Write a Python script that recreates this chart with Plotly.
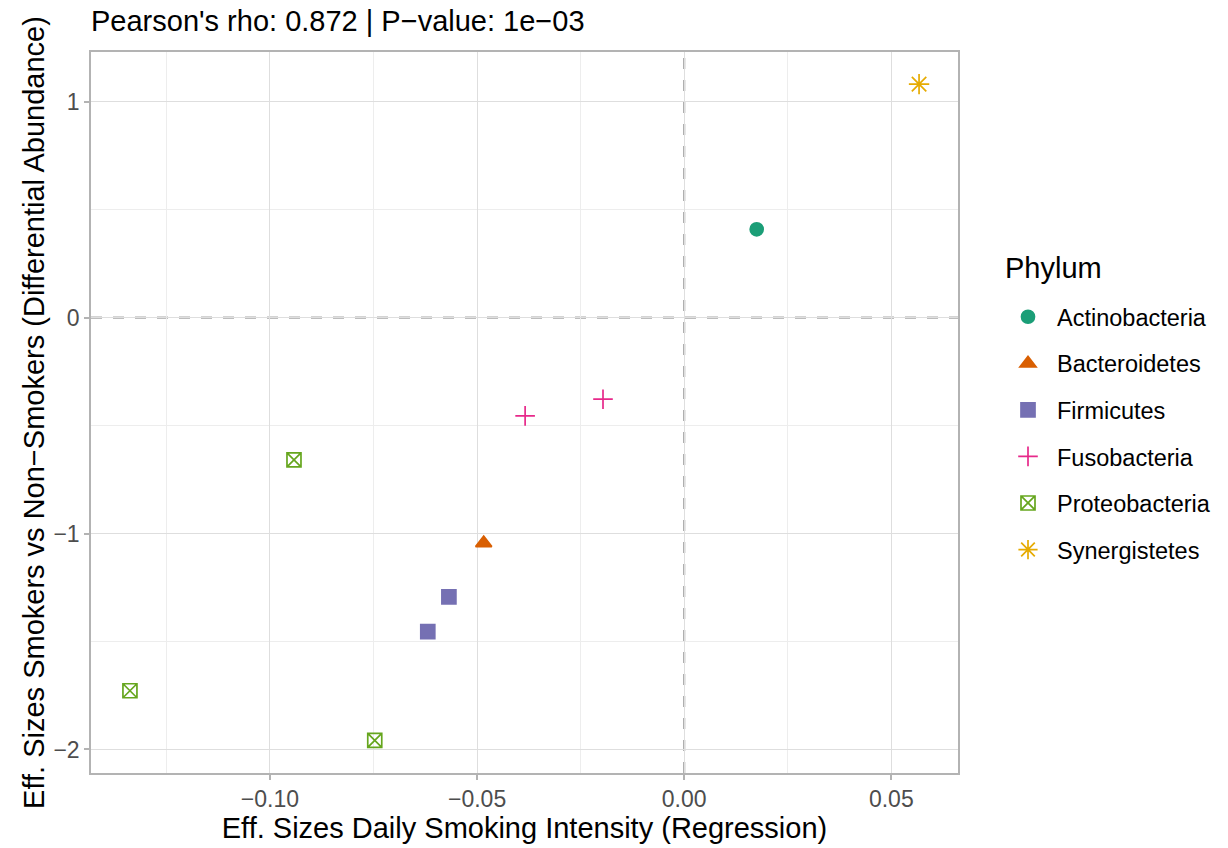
import plotly.graph_objects as go

phyla = ["Actinobacteria", "Bacteroidetes", "Firmicutes", "Fusobacteria", "Proteobacteria", "Synergistetes"]
x_vals = {
    "Actinobacteria": [0.0175],
    "Bacteroidetes": [-0.0484],
    "Firmicutes": [-0.0568, -0.0619],
    "Fusobacteria": [-0.0384, -0.0196],
    "Proteobacteria": [-0.0942, -0.1338, -0.0747],
    "Synergistetes": [0.0567],
}
y_vals = {
    "Actinobacteria": [0.409],
    "Bacteroidetes": [-1.044],
    "Firmicutes": [-1.293, -1.454],
    "Fusobacteria": [-0.455, -0.378],
    "Proteobacteria": [-0.659, -1.728, -1.958],
    "Synergistetes": [1.081],
}
colors = ["#1B9E77", "#D95F02", "#7570B3", "#E7298A", "#66A61E", "#E6AB02"]
symbols = ["circle", "triangle-up", "square", "cross-thin-open", "square-x-open", "asterisk-open"]
sizes = [13, 14, 14, 14, 14, 17]

x_ticks = [-0.10, -0.05, 0.00, 0.05]
x_ticktext = ["\u22120.10", "\u22120.05", "0.00", "0.05"]
y_ticks = [1, 0, -1, -2]
y_ticktext = ["1", "0", "\u22121", "\u22122"]

title_text = "Pearson's rho: 0.872 | P\u2212value: 1e\u221203"
x_title = "Eff. Sizes Daily Smoking Intensity (Regression)"
y_title = "Eff. Sizes Smokers vs Non\u2212Smokers (Differential Abundance)"
legend_title = "Phylum"

FONT = "Liberation Sans, Arial, sans-serif"
W, H = 1228, 848
L, R, T, B = 91, 270, 52, 75
PW, PH = W - L - R, H - T - B

fig = go.Figure()
for i, p in enumerate(phyla):
    fig.add_trace(go.Scatter(
        x=x_vals[p], y=y_vals[p], mode="markers", name=p, legendgroup=p,
        marker=dict(symbol=symbols[i], color=colors[i], size=sizes[i],
                    line=dict(color=colors[i], width=1.7)),
    ))

grid_major = "#DEDEDE"
grid_minor = "#EDEDED"
border = "#B3B3B3"

fig.add_shape(type="line", xref="x", yref="paper", x0=0, x1=0, y0=0, y1=1,
              line=dict(color="#A8A8A8", width=2.2, dash="11px,11px"), layer="between")
fig.add_shape(type="line", xref="paper", yref="y", x0=0, x1=1, y0=0, y1=0,
              line=dict(color="#A8A8A8", width=2.2, dash="11px,11px"), layer="between")

fig.add_annotation(text=legend_title, xref="paper", yref="paper",
                   x=(1003 - L) / PW, y=(H - B - 268) / PH, xanchor="left", yanchor="middle",
                   showarrow=False, font=dict(size=29, color="black"))

fig.update_layout(
    width=W, height=H,
    margin=dict(l=L, r=R, t=T, b=B),
    paper_bgcolor="white", plot_bgcolor="white",
    font=dict(family=FONT, color="black"),
    title=dict(text=title_text, x=L/W, xanchor="left", y=1-21/H, yanchor="middle",
               font=dict(size=29, color="black")),
    legend=dict(
        font=dict(size=23.5), x=(999 - L) / PW, xanchor="left",
        y=(H - B - 433.5) / PH, yanchor="middle",
        tracegroupgap=13, itemsizing="trace", itemwidth=48,
    ),
    xaxis=dict(
        range=[-0.1432, 0.0661], tickvals=x_ticks, ticktext=x_ticktext,
        showgrid=True, gridcolor=grid_major, gridwidth=1,
        minor=dict(dtick=0.025, tick0=0, showgrid=True, gridcolor=grid_minor, gridwidth=1, ticks=""),
        zeroline=False, showline=True, linecolor=border, linewidth=1.5, mirror=True,
        ticks="outside", ticklen=5, tickcolor=border, tickwidth=1.5,
        tickfont=dict(size=23, color="#4D4D4D"), automargin=False,
        title=dict(text=x_title, font=dict(size=29, color="black"), standoff=4),
    ),
    yaxis=dict(
        range=[-2.109, 1.230], tickvals=y_ticks, ticktext=y_ticktext,
        showgrid=True, gridcolor=grid_major, gridwidth=1,
        minor=dict(dtick=0.5, tick0=0, showgrid=True, gridcolor=grid_minor, gridwidth=1, ticks=""),
        zeroline=False, showline=True, linecolor=border, linewidth=1.5, mirror=True,
        ticks="outside", ticklen=5, tickcolor=border, tickwidth=1.5,
        tickfont=dict(size=23, color="#4D4D4D"), automargin=False,
        title=dict(text=y_title, font=dict(size=29, color="black"), standoff=0),
    ),
)

fig.write_html("out.html")
